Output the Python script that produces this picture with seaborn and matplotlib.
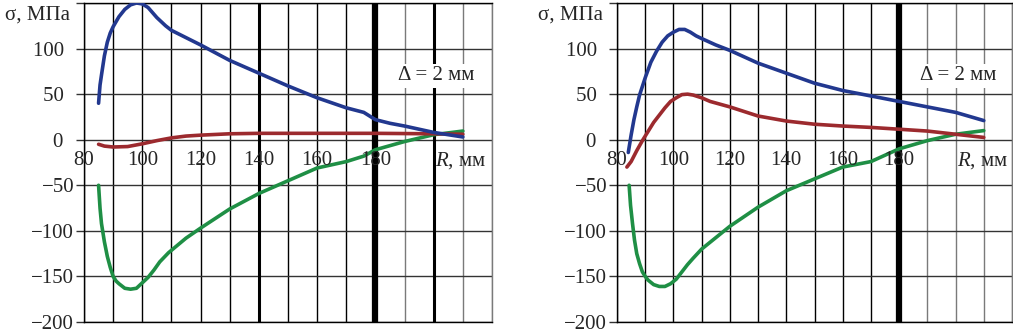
import pandas as pd
import matplotlib.pyplot as plt
import seaborn as sns

# left panel curves
r_blue_l = [85, 85.5, 86, 87, 88, 89, 90, 92, 94, 96, 98, 100, 102, 105, 108, 110, 120, 130, 140, 150, 160, 170, 176, 180, 185, 190, 200, 210]
s_blue_l = [40, 60, 71, 92, 107, 117, 124, 135, 143, 148, 150, 149, 145, 134, 125, 120, 104, 87, 73, 59, 46, 35, 30, 22, 18, 15, 8, 3]
r_red_l = [85, 87, 90, 95, 100, 105, 110, 115, 120, 130, 140, 160, 180, 200, 210]
s_red_l = [-5, -7, -8, -7.5, -4.5, -1, 2, 4, 5, 6.5, 7, 7, 7, 6.5, 6]
r_green_l = [85, 85.5, 86, 87, 88, 89, 90, 91, 92, 94, 96, 98, 100, 102, 104, 106, 109, 115, 120, 130, 140, 150, 160, 170, 176, 180, 190, 200, 210]
s_green_l = [-50, -75, -92, -112, -128, -140, -150, -155, -158, -163, -164, -163, -157, -151, -143, -134, -124, -108, -97, -76, -59, -45, -31, -24, -18, -11, -2, 5.5, 9.5]

# right panel curves
r_blue_r = [84, 85, 86, 87, 88, 90, 92, 94, 96, 98, 100, 102, 104, 106, 108, 110, 115, 120, 130, 140, 150, 160, 170, 180, 190, 200, 210]
s_blue_r = [-14, 5, 22, 36, 49, 68, 85, 97, 107, 114, 118, 121, 121, 118, 114, 111, 104, 98, 84, 73, 62, 54, 48, 42, 36, 30, 21]
r_red_r = [83.5, 85, 87, 89, 91, 93, 95, 97, 99, 101, 103, 105, 107, 110, 113, 120, 130, 140, 150, 160, 170, 180, 190, 200, 210]
s_red_r = [-30, -24, -12, -1, 9, 19, 27, 35, 42, 46, 49.5, 50, 49, 46, 42, 36, 26, 20.5, 17, 15, 13.5, 11.5, 9.5, 6, 2.5]
r_green_r = [84.3, 84.8, 85.5, 86.2, 87, 88, 89, 90, 91, 93, 95, 97, 99, 101, 103, 105, 107, 110, 120, 130, 140, 150, 160, 170, 180, 190, 200, 210]
s_green_r = [-50, -72, -92, -110, -125, -136, -145, -150, -154, -159, -161, -161, -158, -153, -145, -137, -130, -120, -95, -74, -56, -43, -30, -24, -10, -1, 6, 10]

x_ticks = list(range(80, 221, 10))
x_labels = ['80', '100', '120', '140', '160', '180']
y_ticks = [-200, -150, -100, -50, 0, 50, 100, 150]
y_labels = ['\u2212200', '\u2212150', '\u2212100', '\u221250', '0  ', '50  ', '100  ', '']

colors = {'blue': '#22388f', 'red': '#9c2a2e', 'green': '#1f8f45'}

sns.set_style("white")
plt.rcParams['font.family'] = ['Liberation Serif', 'DejaVu Serif']
plt.rcParams['mathtext.fontset'] = 'custom'
plt.rcParams['mathtext.it'] = 'Liberation Serif:italic'
plt.rcParams['mathtext.rm'] = 'Liberation Serif'


def make_df(rb, sb, rr, sr, rg, sg):
    parts = []
    for name, r, s in [('green', rg, sg), ('red', rr, sr), ('blue', rb, sb)]:
        parts.append(pd.DataFrame({'R': r, 'sigma': s, 'curve': name}))
    return pd.concat(parts, ignore_index=True)


df_l = make_df(r_blue_l, s_blue_l, r_red_l, s_red_l, r_green_l, s_green_l)
df_r = make_df(r_blue_r, s_blue_r, r_red_r, s_red_r, r_green_r, s_green_r)

fig = plt.figure(figsize=(10.13, 3.32), dpi=100)
ax1 = fig.add_axes([84 / 1013, 10 / 332, 408 / 1013, 319 / 332])
ax2 = fig.add_axes([617 / 1013, 10 / 332, 395 / 1013, 319 / 332])


def style_panel(ax, df, thick):
    ax.set_xlim(80, 220)
    ax.set_ylim(-200, 150)
    ax.set_xticks(x_ticks)
    ax.set_xticklabels([])
    ax.set_yticks(y_ticks)
    ax.set_yticklabels(y_labels, fontsize=15)
    ax.tick_params(axis='x', length=0)
    ax.tick_params(axis='y', length=6, width=1, color='#333333', pad=1, direction='out', left=True)
    ax.grid(True, color='black', lw=1)
    for line, t in zip(ax.get_xgridlines(), x_ticks):
        if t > 180:
            line.set_color('#7a7a7a')
    for line in ax.get_ygridlines():
        line.set_color('#333333')
    for sp in ax.spines.values():
        sp.set_visible(True)
        sp.set_color('black')
        sp.set_linewidth(1)
    ax.spines['right'].set_color('#7a7a7a')
    for x, w in thick:
        ax.axvline(x, color='black', lw=w, zorder=1.5)

    sns.lineplot(data=df, x='R', y='sigma', hue='curve', palette=colors,
                 estimator=None, sort=False, legend=False, lw=2.6, ax=ax, zorder=3)
    ax.set_xlabel('')
    ax.set_ylabel('')

    for lbl in x_labels:
        ax.annotate(lbl, xy=(int(lbl), 0), xytext=(0, -15), textcoords='offset points',
                    ha='center', va='center', fontsize=15)
    ax.annotate('$R$, мм', xy=(200.5, 0), xytext=(0, -15), textcoords='offset points',
                ha='left', va='center', fontsize=15)
    ax.text(201, 70, '\u0394 = 2 мм', ha='center', va='center', fontsize=15, zorder=4,
            bbox=dict(facecolor='white', edgecolor='none', pad=2))
    ax.annotate('\u03c3, МПа', xy=(0, 1), xycoords='axes fraction', xytext=(-10, -9),
                textcoords='offset points', ha='right', va='center', fontsize=15,
                annotation_clip=False)


style_panel(ax1, df_l, [(140, 2.2), (180, 4.5), (200, 2.2)])
style_panel(ax2, df_r, [(180, 4.5)])

fig.savefig('out.png', dpi=100)
